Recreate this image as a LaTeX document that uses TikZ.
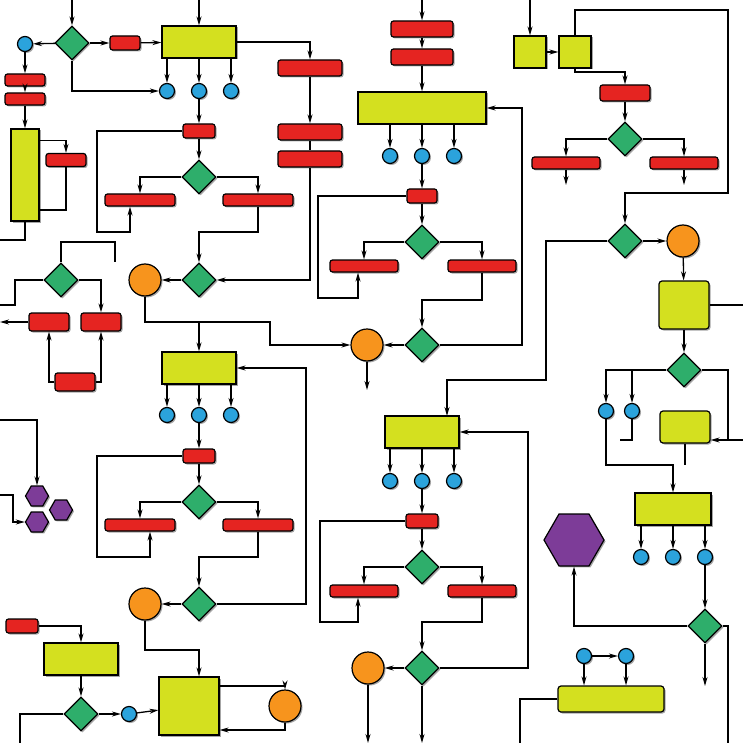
\documentclass[tikz,border=0pt]{standalone}
\usetikzlibrary{shapes.geometric,arrows.meta,shadows}
\definecolor{cred}{HTML}{E52421}
\definecolor{cyel}{HTML}{D4E01F}
\definecolor{cgrn}{HTML}{2EAE6B}
\definecolor{cblu}{HTML}{2BA3DC}
\definecolor{corg}{HTML}{F7941D}
\definecolor{cpur}{HTML}{7D3C98}
\begin{document}
\begin{tikzpicture}[
    x=1pt, y=-1pt,
    >={Stealth[length=9pt,width=5pt]},
    wire/.style={
        line width=1.3pt,
        },
    base/.style={
        draw,
        line width=1.2pt,
        inner sep=0pt,
        drop shadow={shadow xshift=1.5pt,shadow yshift=-1.5pt,fill=black!35,opacity=1},
        },
    rbox/.style={
        base,
        fill=cred,
        rounded corners=2.5pt,
        },
    ybox/.style={
        base,
        fill=cyel,
        },
    dia/.style={
        base,
        diamond,
        fill=cgrn,
        minimum size=34pt,
        },
    dot/.style={
        base,
        circle,
        fill=cblu,
        minimum size=15pt,
        },
    orb/.style={
        base,
        circle,
        fill=corg,
        minimum size=32pt,
        },
    hexa/.style={
        base,
        regular polygon,
        regular polygon sides=6,
        fill=cpur,
        },
    ]
    \useasboundingbox (0,0) rectangle (743,743);

    % top left
    \node [dot] (bA) at (25,44) {};
    \node [dia] (dA) at (72,43) {};
    \node [rbox, minimum width=30pt, minimum height=14pt] (rA) at (125,43) {};
    \node [ybox, minimum width=74pt, minimum height=32pt] (yA) at (199,42) {};
    \node [rbox, minimum width=40pt, minimum height=12pt] (rB) at (25,80) {};
    \node [rbox, minimum width=40pt, minimum height=12pt] (rC) at (25,99) {};
    \node [ybox, minimum width=28pt, minimum height=92pt] (yB) at (25,175) {};
    \node [rbox, minimum width=40pt, minimum height=13pt] (rD) at (66,160) {};
    \foreach \i/\x in {1/167,2/199,3/231} \node [dot] (bA\i) at (\x,91) {};
    \node [rbox, minimum width=32pt, minimum height=14pt] (rE) at (199,131) {};
    \node [dia] (dB) at (199,177) {};
    \node [rbox, minimum width=70pt, minimum height=12pt] (rF) at (140,200) {};
    \node [rbox, minimum width=70pt, minimum height=12pt] (rG) at (258,200) {};
    \node [rbox, minimum width=64pt, minimum height=16pt] (rH) at (310,68) {};
    \node [rbox, minimum width=64pt, minimum height=16pt] (rI) at (310,132) {};
    \node [rbox, minimum width=64pt, minimum height=16pt] (rJ) at (310,159) {};
    \node [dia] (dC) at (199,280) {};
    \node [orb] (oA) at (145,280) {};
    \node [dia] (dD) at (61,280) {};
    \node [rbox, minimum width=40pt, minimum height=18pt] (rK) at (49,322) {};
    \node [rbox, minimum width=40pt, minimum height=18pt] (rL) at (101,322) {};
    \node [rbox, minimum width=40pt, minimum height=18pt] (rM) at (75,382) {};

    % top middle
    \node [rbox, minimum width=62pt, minimum height=16pt] (rN) at (422,29) {};
    \node [rbox, minimum width=62pt, minimum height=16pt] (rO) at (422,57) {};
    \node [ybox, minimum width=128pt, minimum height=32pt] (yC) at (422,108) {};
    \foreach \i/\x in {1/390,2/422,3/454} \node [dot] (bB\i) at (\x,156) {};
    \node [rbox, minimum width=30pt, minimum height=14pt] (rP) at (422,196) {};
    \node [dia] (dE) at (422,242) {};
    \node [rbox, minimum width=68pt, minimum height=12pt] (rQ) at (364,266) {};
    \node [rbox, minimum width=68pt, minimum height=12pt] (rR) at (482,266) {};
    \node [dia] (dF) at (422,345) {};
    \node [orb] (oB) at (367,345) {};

    % top right
    \node [ybox, minimum size=32pt] (yD) at (530,52) {};
    \node [ybox, minimum size=32pt] (yE) at (575,52) {};
    \node [rbox, minimum width=50pt, minimum height=16pt] (rS) at (625,93) {};
    \node [dia] (dG) at (625,139) {};
    \node [rbox, minimum width=68pt, minimum height=12pt] (rT) at (566,163) {};
    \node [rbox, minimum width=68pt, minimum height=12pt] (rU) at (684,163) {};
    \node [dia] (dH) at (625,241) {};
    \node [orb] (oC) at (683,241) {};
    \node [ybox, rounded corners=3pt, minimum width=50pt, minimum height=48pt] (yF) at (684,305) {};
    \node [dia] (dI) at (684,370) {};
    \node [dot] (bC1) at (606,411) {};
    \node [dot] (bC2) at (632,411) {};
    \node [ybox, rounded corners=3pt, minimum width=50pt, minimum height=32pt] (yG) at (685,427) {};
    \node [ybox, minimum width=76pt, minimum height=32pt] (yH) at (673,509) {};
    \foreach \i/\x in {1/641,2/673,3/705} \node [dot] (bD\i) at (\x,557) {};
    \node [dia] (dJ) at (705,626) {};
    \node [hexa, minimum size=60pt] (hA) at (574,540) {};
    \node [dot] (bE1) at (584,656) {};
    \node [dot] (bE2) at (626,656) {};
    \node [ybox, rounded corners=3pt, minimum width=106pt, minimum height=26pt] (yI) at (611,699) {};

    % middle left
    \node [ybox, minimum width=74pt, minimum height=32pt] (yJ) at (199,368) {};
    \foreach \i/\x in {1/167,2/199,3/231} \node [dot] (bF\i) at (\x,415) {};
    \node [rbox, minimum width=32pt, minimum height=14pt] (rV) at (199,456) {};
    \node [dia] (dK) at (199,502) {};
    \node [rbox, minimum width=70pt, minimum height=12pt] (rW) at (140,525) {};
    \node [rbox, minimum width=70pt, minimum height=12pt] (rX) at (258,525) {};
    \node [dia] (dL) at (199,604) {};
    \node [orb] (oD) at (145,604) {};
    \node [hexa, minimum size=23pt] (hB) at (37,496) {};
    \node [hexa, minimum size=23pt] (hC) at (61,510) {};
    \node [hexa, minimum size=23pt] (hD) at (37,522) {};

    % middle centre
    \node [ybox, minimum width=74pt, minimum height=32pt] (yK) at (422,432) {};
    \foreach \i/\x in {1/390,2/422,3/454} \node [dot] (bG\i) at (\x,481) {};
    \node [rbox, minimum width=32pt, minimum height=14pt] (rY) at (422,521) {};
    \node [dia] (dM) at (422,567) {};
    \node [rbox, minimum width=68pt, minimum height=12pt] (rZ) at (364,591) {};
    \node [rbox, minimum width=68pt, minimum height=12pt] (rAA) at (482,591) {};
    \node [dia] (dN) at (422,668) {};
    \node [orb] (oE) at (368,668) {};

    % bottom left
    \node [rbox, minimum width=32pt, minimum height=14pt] (rAB) at (22,626) {};
    \node [ybox, minimum width=74pt, minimum height=32pt] (yL) at (81,659) {};
    \node [dia] (dO) at (81,714) {};
    \node [dot] (bH) at (129,714) {};
    \node [ybox, minimum width=60pt, minimum height=58pt] (yM) at (189,706) {};
    \node [orb] (oF) at (285,706) {};

    % free ends
    \coordinate (tA) at (72,0);  \coordinate (tB) at (199,0);
    \coordinate (tC) at (422,0); \coordinate (tD) at (530,0);
    \coordinate (eA) at (0,240); \coordinate (eB) at (0,305);
    \coordinate (eC) at (0,420); \coordinate (eD) at (0,495);
    \coordinate (eE) at (0,322);
    \coordinate (fA) at (20,743); \coordinate (fB) at (368,743);
    \coordinate (fC) at (422,743); \coordinate (fD) at (520,743);
    \coordinate (fE) at (728,743); \coordinate (fF) at (743,326);
    \coordinate (fG) at (743,440);

    % wires top left
    \draw [wire, ->] (tA) -- (dA);
    \draw [wire, ->] (tB) -- (yA);
    \draw [wire, ->] (dA) -- (bA);
    \draw [wire, ->] (dA) -- (rA);
    \draw [wire, ->] (rA) -- (yA);
    \draw [wire, ->] (dA) |- (bA1);
    \foreach \i in {1,2,3} \draw [wire, ->] (yA.south -| bA\i) -- (bA\i);
    \draw [wire, ->] (bA2) -- (rE);
    \draw [wire, ->] (rE) -- (dB);
    \draw [wire, ->] (dB) -| (rF);
    \draw [wire, ->] (dB) -| (rG);
    \draw [wire, ->] (bA) -- (rB);
    \draw [wire, ->] (rB) -- (rC);
    \draw [wire, ->] (rC) -- (yB);
    \draw [wire, ->] (yB.north east) ++(0,12) -| (rD);
    \draw [wire] (rD) -- ++(0,50) -| (yB.east);
    \draw [wire] (eA) -| (yB.south);
    \draw [wire, ->] (rE) -| (97,232) -| ([xshift=-10pt]rF.south);
    \draw [wire, ->] (rG) |- (199,232) -- (dC);
    \draw [wire, ->] (dC) -- (oA);
    \draw [wire, ->] (yA) -| (rH);
    \draw [wire, ->] (rH) -- (rI);
    \draw [wire] (rI) -- (rJ);
    \draw [wire, ->] (rJ) |- (dC);
    \draw [wire, ->] (oA) |- (270,322) |- (oB);
    \draw [wire, ->] (199,322) -- (yJ);
    \draw [wire] (dD) -| (15,305) -- (eB);
    \draw [wire, ->] (dD) -| (rL);
    \draw [wire] (dD) |- (115,242) -- (115,262);
    \draw [wire, ->] (rM) -| (rK);
    \draw [wire, ->] (rM) -| (rL);
    \draw [wire, ->] (rK) -- (eE);

    % wires top middle
    \draw [wire, ->] (tC) -- (rN);
    \draw [wire, ->] (rN) -- (rO);
    \draw [wire, ->] (rO) -- (yC);
    \foreach \i in {1,2,3} \draw [wire, ->] (yC.south -| bB\i) -- (bB\i);
    \draw [wire, ->] (bB2) -- (rP);
    \draw [wire, ->] (rP) -- (dE);
    \draw [wire, ->] (dE) -| (rQ);
    \draw [wire, ->] (dE) -| (rR);
    \draw [wire, ->] (rP) -| (318,298) -| ([xshift=-6pt]rQ.south);
    \draw [wire, ->] (rR) |- (422,300) -- (dF);
    \draw [wire, ->] (dF) -- (oB);
    \draw [wire, ->] (dF) -| (522,108) -- (yC);
    \draw [wire, ->] (oB) -- (367,390);
    \draw [wire, ->] (dH) -| (546,380) -| (447,416);

    % wires top right
    \draw [wire, ->] (tD) -- (yD);
    \draw [wire, ->] (yD) -- (yE);
    \draw [wire, ->] (yE) |- (728,10) |- (625,193) -- (dH);
    \draw [wire, ->] (yE.south) |- (625,72) -- (rS);
    \draw [wire, ->] (rS) -- (dG);
    \draw [wire, ->] (dG) -| (rT);
    \draw [wire, ->] (dG) -| (rU);
    \draw [wire, ->] (rT) -- ++(0,22);
    \draw [wire, ->] (rU) -- ++(0,22);
    \draw [wire, ->] (dH) -- (oC);
    \draw [wire, ->] (oC) -- (yF);
    \draw [wire, ->] (yF) -- (dI);
    \draw [wire] (yF.east) -- (fF |- yF.east);
    \draw [wire, ->] (dI) -| (bC1);
    \draw [wire, ->] (606,370) -| (bC2);
    \draw [wire, ->] (dI) -| (728,440) -- (yG.east |- 0,440);
    \draw [wire] (728,440) -- (fG);
    \draw [wire, ->] (bC1) |- (620,465) -| (yH);
    \draw [wire] (bC2) |- (620,440);
    \draw [wire] (yG) -- (685,465);
    \foreach \i in {1,2,3} \draw [wire, ->] (yH.south -| bD\i) -- (bD\i);
    \draw [wire, ->] (bD3) -- (dJ);
    \draw [wire, ->] (dJ) -| (hA);
    \draw [wire] (dJ) -| (fE);
    \draw [wire, ->] (dJ) -- (705,686);
    \draw [wire, ->] (bE1) -- (bE2);
    \draw [wire, ->] (bE1) -- (yI.north -| bE1);
    \draw [wire, ->] (bE2) -- (yI.north -| bE2);
    \draw [wire] (yI) -| (fD);

    % wires middle left
    \foreach \i in {1,2,3} \draw [wire, ->] (yJ.south -| bF\i) -- (bF\i);
    \draw [wire, ->] (bF2) -- (rV);
    \draw [wire, ->] (rV) -- (dK);
    \draw [wire, ->] (dK) -| (rW);
    \draw [wire, ->] (dK) -| (rX);
    \draw [wire, ->] (rV) -| (97,557) -| ([xshift=10pt]rW.south);
    \draw [wire, ->] (rX) |- (199,557) -- (dL);
    \draw [wire, ->] (dL) -- (oD);
    \draw [wire, ->] (dL) -| (306,368) -- (yJ);
    \draw [wire, ->] (eC) -| (hB);
    \draw [wire, ->] (eD) -| (13,522) -- (hD);

    % wires middle centre
    \foreach \i in {1,2,3} \draw [wire, ->] (yK.south -| bG\i) -- (bG\i);
    \draw [wire, ->] (bG2) -- (rY);
    \draw [wire, ->] (rY) -- (dM);
    \draw [wire, ->] (dM) -| (rZ);
    \draw [wire, ->] (dM) -| (rAA);
    \draw [wire, ->] (rY) -| (320,622) -| ([xshift=-6pt]rZ.south);
    \draw [wire, ->] (rAA) |- (422,622) -- (dN);
    \draw [wire, ->] (dN) -- (oE);
    \draw [wire, ->] (dN) -| (528,432) -- (yK);
    \draw [wire, ->] (oE) -- (fB);
    \draw [wire, ->] (dN) -- (fC);

    % wires bottom left
    \draw [wire, ->] (rAB) -| (yL);
    \draw [wire, ->] (yL) -- (dO);
    \draw [wire, ->] (dO) -- (bH);
    \draw [wire, ->] (bH) -- (yM);
    \draw [wire] (dO) -| (fA);
    \draw [wire, ->] (oD) |- (199,650) -- (yM.north -| 199,0);
    \draw [wire, ->] (yM.east |- 0,686) -| (oF);
    \draw [wire, ->] (oF) |- (yM.east |- 0,730);
\end{tikzpicture}
\end{document}
